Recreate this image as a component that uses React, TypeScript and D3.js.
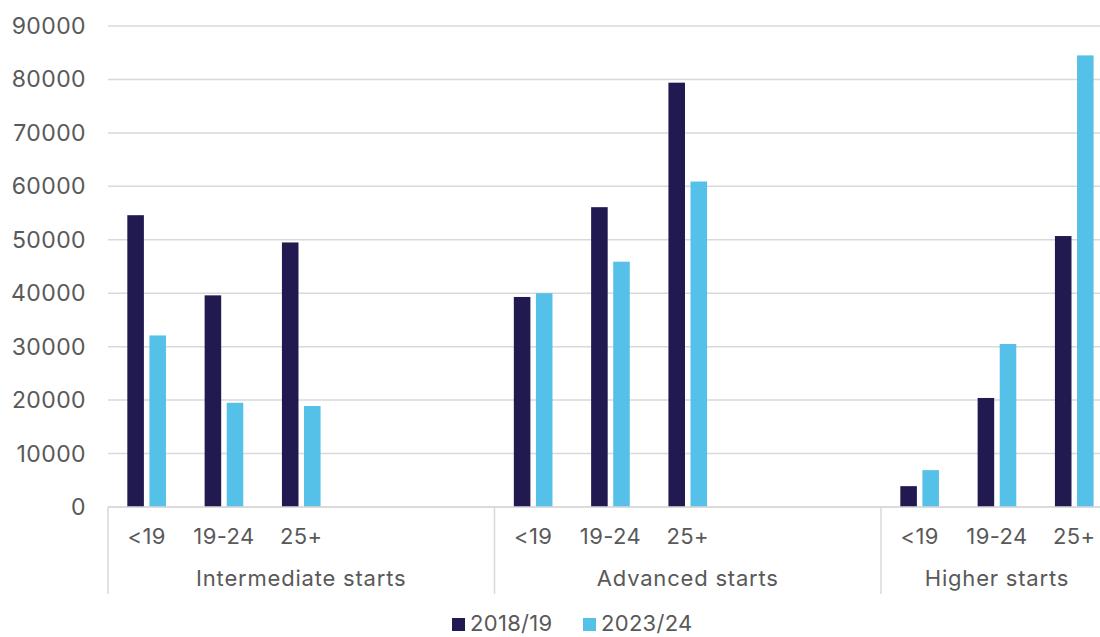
import React, { useEffect, useRef } from 'react';
import * as d3 from 'd3';

// Données
const groups = ['Intermediate starts', 'Advanced starts', 'Higher starts'];
const groupSlots = [5, 5, 3];
const ageBands = ['<19', '19-24', '25+'];
const seriesNames = ['2018/19', '2023/24'];
const values2018 = [54600, 39600, 49500, 39300, 56100, 79400, 3900, 20400, 50700];
const values2023 = [32100, 19500, 18900, 40000, 45900, 60900, 6900, 30500, 84500];
const yTicks = [0, 10000, 20000, 30000, 40000, 50000, 60000, 70000, 80000, 90000];

const colors = ['#201A50', '#56C1E8'];
const textColor = '#595959';
const gridColor = '#D9D9D9';
const font = 'Inter, "Noto Sans", sans-serif';

const App = () => {
  const ref = useRef<SVGSVGElement>(null);

  useEffect(() => {
    const svg = d3.select(ref.current);
    svg.selectAll('*').remove();

    const left = 108;
    const top = 26;
    const bottom = 507;
    const slotWidth = 77.3;
    const totalSlots = d3.sum(groupSlots);

    // une case par position sur l'axe, y compris les cases vides
    const slots: { key: string; label: string; group: number; idx: number | null }[] = [];
    let k = 0;
    groupSlots.forEach((n, g) => {
      for (let i = 0; i < n; i++) {
        const hasData = i < ageBands.length;
        slots.push({
          key: `s${slots.length}`,
          label: hasData ? ageBands[i] : '',
          group: g,
          idx: hasData ? k++ : null,
        });
      }
    });

    const x0 = d3.scaleBand()
      .domain(slots.map(s => s.key))
      .range([left, left + slotWidth * totalSlots])
      .paddingInner(0)
      .paddingOuter(0);

    const inner = slotWidth / 2;
    const x1 = d3.scaleBand()
      .domain(seriesNames)
      .range([(slotWidth - inner) / 2, (slotWidth + inner) / 2])
      .paddingInner(0.25)
      .paddingOuter(0);

    const y = d3.scaleLinear().domain([0, 90000]).range([bottom, top]);

    // grille
    svg.append('g')
      .selectAll('line')
      .data(yTicks)
      .enter()
      .append('line')
      .attr('x1', left)
      .attr('x2', 1100)
      .attr('y1', d => y(d))
      .attr('y2', d => y(d))
      .attr('stroke', gridColor)
      .attr('stroke-width', 1.5);

    // étiquettes de l'axe y
    svg.append('g')
      .selectAll('text')
      .data(yTicks)
      .enter()
      .append('text')
      .attr('x', 86)
      .attr('y', d => y(d))
      .attr('dy', '0.35em')
      .attr('text-anchor', 'end')
      .attr('font-family', font)
      .attr('font-size', 23)
      .attr('letter-spacing', 0.4)
      .attr('fill', textColor)
      .text(d => String(d));

    // barres
    const withData = slots.filter(s => s.idx !== null);
    const seriesValues = [values2018, values2023];
    seriesNames.forEach((name, si) => {
      svg.append('g')
        .selectAll('rect')
        .data(withData)
        .enter()
        .append('rect')
        .attr('x', s => (x0(s.key) as number) + (x1(name) as number))
        .attr('width', x1.bandwidth())
        .attr('y', s => y(seriesValues[si][s.idx as number]))
        .attr('height', s => bottom - y(seriesValues[si][s.idx as number]))
        .attr('fill', colors[si]);
    });

    // étiquettes des catégories
    svg.append('g')
      .selectAll('text')
      .data(slots.filter(s => s.label))
      .enter()
      .append('text')
      .attr('x', s => (x0(s.key) as number) + slotWidth / 2)
      .attr('y', 536)
      .attr('dy', '0.35em')
      .attr('text-anchor', 'middle')
      .attr('font-family', font)
      .attr('font-size', 22)
      .attr('letter-spacing', 0.4)
      .attr('fill', textColor)
      .text(s => s.label);

    // séparateurs et noms des groupes
    let start = 0;
    const bounds: number[] = [];
    groupSlots.forEach(n => {
      bounds.push(start);
      start += n;
    });
    svg.append('g')
      .selectAll('line')
      .data(bounds)
      .enter()
      .append('line')
      .attr('x1', b => x0(slots[b].key) as number)
      .attr('x2', b => x0(slots[b].key) as number)
      .attr('y1', bottom)
      .attr('y2', 594)
      .attr('stroke', gridColor)
      .attr('stroke-width', 1.5);

    svg.append('line')
      .attr('x1', left)
      .attr('x2', 1100)
      .attr('y1', bottom)
      .attr('y2', bottom)
      .attr('stroke', gridColor)
      .attr('stroke-width', 1.5);

    svg.append('g')
      .selectAll('text')
      .data(groups)
      .enter()
      .append('text')
      .attr('x', (g, i) => (x0(slots[bounds[i]].key) as number) + (groupSlots[i] * slotWidth) / 2)
      .attr('y', 578)
      .attr('dy', '0.35em')
      .attr('text-anchor', 'middle')
      .attr('font-family', font)
      .attr('font-size', 22)
      .attr('letter-spacing', 0.8)
      .attr('fill', textColor)
      .text(g => g);

    // légende
    const legendX = [452, 583];
    const legend = svg.append('g')
      .selectAll('g')
      .data(seriesNames)
      .enter()
      .append('g')
      .attr('transform', (d, i) => `translate(${legendX[i]},618)`);
    legend.append('rect')
      .attr('width', 13)
      .attr('height', 13)
      .attr('fill', (d, i) => colors[i]);
    legend.append('text')
      .attr('x', 18)
      .attr('y', 5)
      .attr('dy', '0.35em')
      .attr('font-family', font)
      .attr('font-size', 22)
      .attr('letter-spacing', 0.3)
      .attr('fill', textColor)
      .text(d => d);
  }, []);

  return (
    <svg
      ref={ref}
      width={1100}
      height={637}
      style={{ position: 'absolute', left: 0, top: 0, background: '#fff' }}
    />
  );
};

export default App;
